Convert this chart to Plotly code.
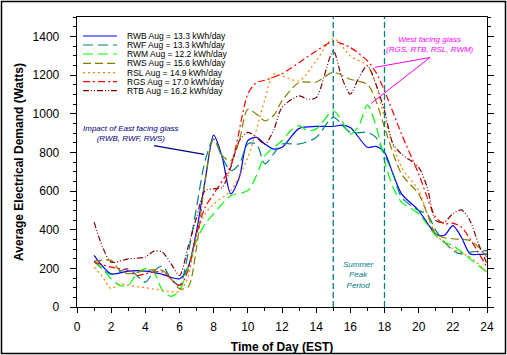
import plotly.graph_objects as go

# ---------------- data ----------------
rwb_x = [1, 2, 3, 4, 5, 6, 6.5, 7, 7.5, 8, 8.5, 9, 9.5, 10, 10.5, 11, 11.5, 12, 13, 14, 15, 15.5, 16, 17, 17.5, 18, 18.5, 19, 20, 21, 21.5, 22, 22.5, 23, 23.5, 24]
rwb_y = [267, 172, 186, 186, 169, 146, 206, 395, 654, 889, 774, 585, 670, 860, 877, 843, 817, 826, 924, 934, 934, 941, 929, 826, 831, 800, 688, 585, 499, 378, 370, 421, 361, 275, 272, 275]

rwf_x = [1, 2, 3, 4, 4.5, 5, 5.5, 6, 6.5, 7, 7.5, 8, 8.5, 9, 9.5, 10, 10.5, 11, 11.5, 12, 13, 14, 15, 16, 17, 17.5, 18, 18.5, 19, 20, 20.5, 21, 22, 22.5, 23, 24]
rwf_y = [236, 169, 198, 129, 186, 212, 146, 112, 275, 516, 757, 869, 774, 705, 740, 843, 843, 740, 791, 843, 843, 877, 980, 903, 903, 877, 791, 688, 568, 499, 482, 396, 292, 275, 284, 292]

rwm_x = [1, 1.5, 2, 2.5, 3, 3.5, 4, 4.5, 5, 5.5, 6, 6.5, 7, 7.5, 8, 9, 10, 10.5, 11, 12, 12.5, 13, 13.5, 14, 15, 15.5, 16, 16.5, 17, 17.5, 18, 18.5, 19, 20, 21, 21.5, 22, 23, 24]
rwm_y = [236, 198, 146, 112, 112, 172, 198, 181, 86, 55, 86, 206, 344, 430, 482, 576, 602, 679, 783, 860, 912, 938, 912, 920, 1015, 963, 894, 938, 1044, 938, 757, 619, 542, 482, 370, 335, 318, 249, 181]

rws_x = [1, 2, 2.5, 3, 4, 5, 5.5, 6, 6.5, 7, 7.5, 8, 8.5, 9, 9.5, 10, 10.5, 11, 11.5, 12, 13, 14, 15, 16, 17, 17.5, 18, 19, 20, 20.5, 21, 21.5, 22, 23, 23.5, 24]
rws_y = [237, 241, 189, 172, 189, 189, 146, 95, 103, 310, 654, 869, 783, 757, 860, 1023, 998, 963, 989, 1066, 1161, 1164, 1213, 1178, 1152, 1066, 929, 688, 585, 482, 378, 358, 353, 344, 310, 258]

rsl_x = [1, 1.5, 2, 2.5, 3, 4, 5, 6, 6.5, 7, 7.5, 8, 9, 10, 11, 11.5, 12, 13, 14, 15, 16, 17, 17.5, 18, 19, 20, 21, 22, 23, 24]
rsl_y = [206, 155, 95, 120, 112, 100, 86, 81, 155, 378, 482, 533, 602, 774, 1075, 1204, 1195, 1170, 1273, 1388, 1299, 1247, 1152, 980, 722, 602, 378, 301, 258, 181]

rgs_x = [1, 2, 3, 3.5, 4, 5, 6, 6.5, 7, 7.5, 8, 9, 10, 10.5, 11, 12, 13, 14, 15, 16, 17, 17.5, 18, 19, 20, 21, 21.5, 22, 22.5, 23, 24]
rgs_y = [232, 206, 189, 163, 172, 181, 112, 189, 378, 516, 585, 731, 1101, 1161, 1173, 1207, 1264, 1324, 1373, 1342, 1273, 1213, 1118, 894, 688, 464, 430, 434, 413, 353, 206]

rtb_x = [1, 1.5, 2, 3, 4, 4.5, 5, 5.5, 6, 6.5, 7, 7.5, 8, 8.5, 9, 9.5, 10, 10.5, 11, 11.5, 12, 13, 13.5, 14, 15, 15.5, 16, 16.5, 17, 17.5, 18, 18.5, 19, 20, 20.5, 21, 21.5, 22, 22.5, 23, 23.5, 24]
rtb_y = [439, 310, 232, 249, 258, 289, 284, 224, 163, 310, 464, 602, 611, 619, 722, 860, 903, 877, 843, 912, 1032, 1092, 1075, 1083, 1324, 1187, 1101, 1187, 1247, 1152, 1015, 843, 791, 722, 619, 447, 439, 482, 502, 447, 327, 224]

series_names = ["RWB Aug = 13.3 kWh/day", "RWF Aug = 13.3 kWh/day", "RWM Aug = 12.2 kWh/day",
                "RWS Aug = 15.6 kWh/day", "RSL Aug = 14.9 kWh/day", "RGS Aug = 17.0 kWh/day",
                "RTB Aug = 16.2 kWh/day"]
xtick_vals = list(range(0, 25, 2))
ytick_vals = list(range(0, 1401, 200))
peak_start, peak_end = 15, 18

# ---------------- styles ----------------
colors = ["#0000FF", "#008080", "#00FF00", "#808000", "#FF8000", "#FF0000", "#800000"]
dashes = ["solid", "10px,5px", "10px,5px", "8px,4px", "2px,3px", "7px,3px,2px,3px", "6px,2px,1px,2px,1px,2px"]
xs = [rwb_x, rwf_x, rwm_x, rws_x, rsl_x, rgs_x, rtb_x]
ys = [rwb_y, rwf_y, rwm_y, rws_y, rsl_y, rgs_y, rtb_y]

W, H = 507, 355
L, R, T, B = 77, 20, 17, 48
PW, PH = W - L - R, H - T - B


def px(x):
    return (x - L) / PW


def py(y):
    return 1 - (y - T) / PH


fig = go.Figure()
for name, x, y, c, d in zip(series_names, xs, ys, colors, dashes):
    fig.add_trace(go.Scatter(x=x, y=y, name=name, mode="lines",
                             line=dict(color=c, dash=d, width=1.2, shape="spline", smoothing=0.8),
                             showlegend=False, hoverinfo="skip"))

shapes = []
annotations = []
# manual legend
row_y = [36, 45, 54, 63.3, 72.7, 81.7, 90.7]
for name, c, d, ry in zip(series_names, colors, dashes, row_y):
    shapes.append(dict(type="line", xref="paper", yref="paper", x0=px(83), x1=px(117),
                       y0=py(ry), y1=py(ry), line=dict(color=c, dash=d, width=1.2)))
    annotations.append(dict(xref="paper", yref="paper", x=px(125), y=py(ry), text=name,
                            showarrow=False, xanchor="left", yanchor="middle",
                            font=dict(family="Liberation Sans, Arial", size=8.5, color="black")))

# peak period lines
for xv in (peak_start, peak_end):
    shapes.append(dict(type="line", xref="x", yref="paper", x0=xv, x1=xv, y0=0, y1=1,
                       line=dict(color="#008080", dash="6px,3px", width=1.3)))

# east annotation
annotations.append(dict(xref="paper", yref="paper", x=px(131), y=py(133),
                        text="<i>Impact of East facing glass<br>(RWB, RWF, RWS)</i>",
                        showarrow=False, xanchor="center", yanchor="middle",
                        font=dict(family="Liberation Sans, Arial", size=8, color="#000080")))
shapes.append(dict(type="line", xref="paper", yref="paper", x0=px(154), y0=py(145.7),
                   x1=px(204), y1=py(154.3), line=dict(color="#000080", width=1.2)))

# west annotation
annotations.append(dict(xref="paper", yref="paper", x=px(430), y=py(44.7),
                        text="<i>West facing glass<br>(RGS, RTB, RSL, RWM)</i>",
                        showarrow=False, xanchor="center", yanchor="middle",
                        font=dict(family="Liberation Sans, Arial", size=8, color="#FF00FF")))
shapes.append(dict(type="line", xref="paper", yref="paper", x0=px(430), y0=py(57.5),
                   x1=px(375), y1=py(67.3), line=dict(color="#FF00FF", width=1)))
shapes.append(dict(type="line", xref="paper", yref="paper", x0=px(430), y0=py(57.5),
                   x1=px(371), y1=py(103.5), line=dict(color="#FF00FF", width=1)))

# summer peak text
annotations.append(dict(xref="paper", yref="paper", x=px(358), y=py(274.5),
                        text="<i>Summer<br>Peak<br>Period</i>",
                        showarrow=False, xanchor="center", yanchor="middle",
                        font=dict(family="Liberation Sans, Arial", size=8, color="#008080")))

# figure border
shapes.append(dict(type="rect", xref="paper", yref="paper", x0=px(1.5), x1=px(505.5),
                   y0=py(353.5), y1=py(1.5), line=dict(color="black", width=1.5)))

fig.update_layout(
    width=W, height=H,
    margin=dict(l=L, r=R, t=T, b=B, autoexpand=False),
    paper_bgcolor="white", plot_bgcolor="white",
    shapes=shapes, annotations=annotations,
    hovermode=False,
    font=dict(family="Liberation Sans, Arial", color="black"),
    xaxis=dict(range=[0, 24], tickvals=xtick_vals, ticks="outside", ticklen=5, tickcolor="black",
               showline=True, linecolor="black", linewidth=1.3, mirror=True, showgrid=False,
               zeroline=False, tickfont=dict(size=12), ticklabelstandoff=3, automargin=False,
               minor=dict(dtick=1, ticks="outside", ticklen=3, tickcolor="black", showgrid=False),
               title=dict(text="<b>Time of Day (EST)</b>", font=dict(size=12), standoff=10)),
    yaxis=dict(range=[0, 1500], tickvals=ytick_vals, ticks="outside", ticklen=6, tickcolor="black",
               showline=True, linecolor="black", linewidth=1.3, mirror="allticks", showgrid=False,
               zeroline=False, tickfont=dict(size=12), ticklabelstandoff=8, automargin=False,
               minor=dict(dtick=50, ticks="outside", ticklen=3, tickcolor="black", showgrid=False),
               title=dict(text="<b>Average Electrical Demand (Watts)</b>", font=dict(size=12), standoff=6)),
)

fig.write_html("out.html", config={"displayModeBar": False, "staticPlot": True},
               post_script="document.body.style.margin='0';document.body.style.overflow='hidden';")
